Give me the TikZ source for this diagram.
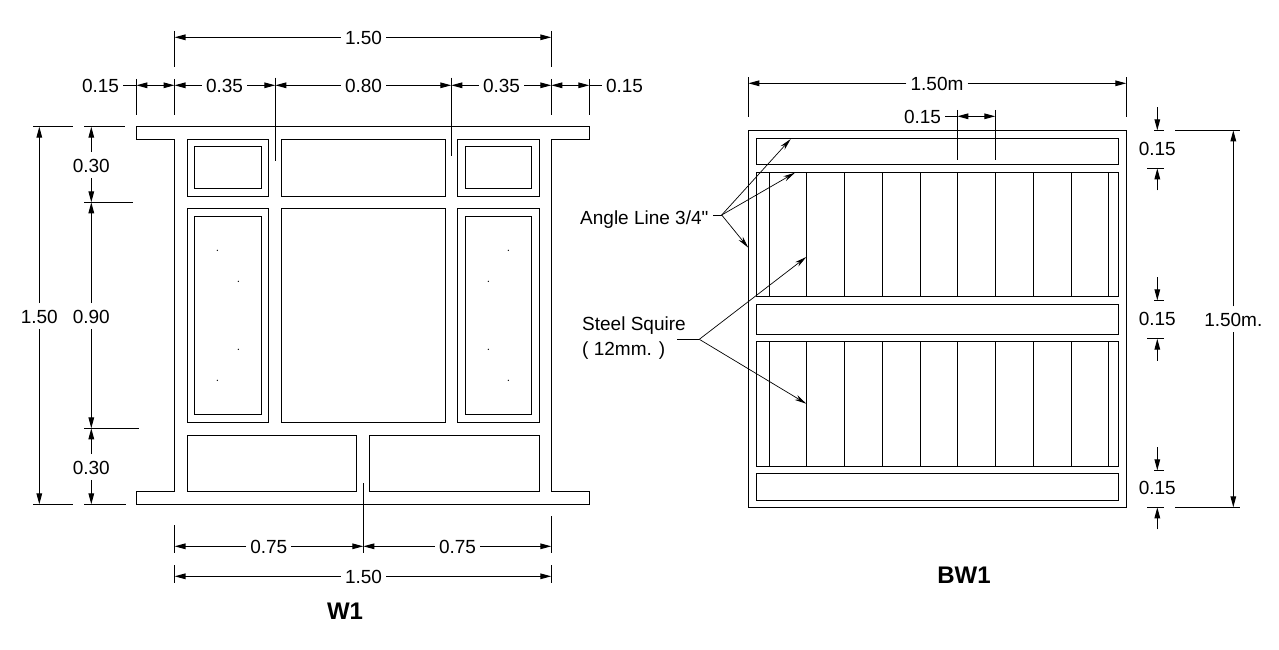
\documentclass[tikz,border=0pt]{standalone}
\usepackage{fontspec}
\setmainfont{Liberation Sans}
\newfontfamily\plainface{Liberation Sans}
\usetikzlibrary{arrows.meta}

\begin{document}
\begin{tikzpicture}[x=1pt,y=-1pt]
   \tikzstyle{part}=[line width=1.15pt, line join=miter]
   \tikzstyle{ext}=[line width=1.05pt]
   \tikzstyle{dimline}=[line width=1.05pt, -{Triangle[length=11pt,width=5.6pt]}]
   \tikzstyle{twodim}=[line width=1.05pt, {Triangle[length=11pt,width=5.6pt]}-{Triangle[length=11pt,width=5.6pt]}]
   \tikzstyle{leader}=[line width=.7pt, -{Stealth[length=12pt,width=5.4pt]}]
   \tikzstyle{label}=[font=\fontsize{19}{25}\selectfont, text height=14.5pt, text depth=0pt, inner xsep=4pt, inner ysep=5.5pt]
   \tikzstyle{title}=[font=\fontsize{24}{26}\selectfont\bfseries]
   \useasboundingbox (0,0) rectangle (1279,650);

   % W1 frame
   \draw[part] (136.3,126.7) -- (589.3,126.7) -- (589.3,139.3) -- (551.3,139.3) -- (551.3,491.3)
      -- (589.3,491.3) -- (589.3,504.3) -- (136.3,504.3) -- (136.3,491.3) -- (174.5,491.3)
      -- (174.5,139.3) -- (136.3,139.3) -- cycle;
   \foreach \xa/\ya/\xb/\yb in {187.3/139.3/268.3/196.3, 194.3/146.3/261.7/188.3,
      281.3/139.3/445.7/196.3, 457.3/139.3/539.7/196.3, 465.3/146.3/531.7/188.3,
      187.3/208.3/268.3/422.3, 194.3/216.3/261.7/414.3, 281.3/208.3/445.7/422.3,
      457.3/208.3/539.7/422.3, 465.3/216.3/531.7/414.3,
      187.3/435.3/356.7/491.3, 369.3/435.3/539.7/491.3} {
       \draw[part] (\xa,\ya) rectangle (\xb,\yb);
   }
   \foreach \x/\y in {217.3/250.3, 238.3/281.3, 238.3/349.3, 217.3/380.3,
      508.3/250.3, 488.3/281.3, 488.3/349.3, 508.3/380.3} {
       \fill (\x,\y) circle (.7);
   }

   % W1 extension lines
   \foreach \name/\x/\ya/\yb in {topl/174.5/31/66.7, topr/551.3/31/66.7, e0/136.3/79/115, e1/174.5/79/115,
      e2/275.3/77.7/160.7, e3/451.3/77.7/155.7, e4/551.3/79/115, e5/589.3/79/115,
      bl/174.5/525.3/552.7, bm/363.3/483.3/553, br/551.3/516.3/552.7,
      cl/174.5/565/582.7, cr/551.3/565/582.7} {
       \coordinate (\name a) at (\x,\ya);
       \coordinate (\name b) at (\x,\yb);
       \draw[ext] (\name a) -- (\name b);
   }
   \foreach \name/\y/\xa/\xb in {hl/126.7/33/72.7, hm/504.3/33/72.7, ga/126.7/84/125, gb/202.3/84/133,
      gc/428.3/84/139, gd/504.3/84/126} {
       \coordinate (\name a) at (\xa,\y);
       \coordinate (\name b) at (\xb,\y);
       \draw[ext] (\name a) -- (\name b);
   }

   % W1 dimensions
   \node[label] (topall) at (363.5,37.3) {1.50};
   \node[label] (ql) at (100.5,85.3) {0.15};
   \node[label] (ra) at (224.5,85.3) {0.35};
   \node[label] (rb) at (363.5,85.3) {0.80};
   \node[label] (rc) at (501.5,85.3) {0.35};
   \node[label] (qr) at (624.5,85.3) {0.15};
   \node[label] (sa) at (268.8,546.3) {0.75};
   \node[label] (sb) at (457.5,546.3) {0.75};
   \node[label] (botall) at (363.5,576.3) {1.50};
   \node[label] (whole) at (39.3,316) {1.50};
   \node[label] (ua) at (91.3,165) {0.30};
   \node[label] (ub) at (91.3,316) {0.90};
   \node[label] (uc) at (91.3,467) {0.30};
   \foreach \label/\end in {topall/topla, topall/topra, ra/e1a, ra/e2a, rb/e2a, rb/e3a, rc/e3a, rc/e4a,
      sa/blb, sa/bmb, sb/bmb, sb/brb, botall/clb, botall/crb} {
       \draw[dimline] (\label) -- (\label -| \end);
   }
   \foreach \label/\end in {whole/hla, whole/hma, ua/gaa, ua/gba, ub/gba, ub/gca, uc/gca, uc/gda} {
       \draw[dimline] (\label) -- (\label |- \end);
   }
   \draw[ext] (ql) -- (ql -| e0a);
   \draw[twodim] (ql -| e0a) -- (ql -| e1a);
   \draw[ext] (qr) -- (qr -| e5a);
   \draw[twodim] (qr -| e4a) -- (qr -| e5a);
   \node[title] (wone) at (345,611) {W1};

   % BW1 panel
   \draw[part] (748.3,130.3) rectangle (1126.3,507.3);
   \foreach \ya/\yb in {138.3/164.3, 172.3/296.3, 304.3/334.3, 341.3/466.3, 473.3/500.3} {
       \draw[part] (756.3,\ya) rectangle (1118.7,\yb);
   }
   \foreach \x in {769.3,806.5,844.3,882.2,920.3,957.5,995.5,1033.3,1071.3,1108.3} {
       \draw[part] (\x,172.3) -- (\x,296.3);
       \draw[part] (\x,341.3) -- (\x,466.3);
   }

   % BW1 dimensions
   \foreach \name/\x/\ya/\yb in {al/748.3/77.3/117.3, ar/1126.3/77.3/117.3, bt/957.3/110/159.7, bu/995.3/110/159.7} {
       \coordinate (\name a) at (\x,\ya);
       \coordinate (\name b) at (\x,\yb);
       \draw[ext] (\name a) -- (\name b);
   }
   \node[label] (widthall) at (937,83.3) {1.50m};
   \foreach \end in {ala, ara} {
       \draw[dimline] (widthall) -- (widthall -| \end);
   }
   \node[label] (pt) at (922.5,116.3) {0.15};
   \draw[ext] (pt) -- (pt -| bta);
   \draw[twodim] (pt -| bta) -- (pt -| bua);
   \foreach \name/\ya/\yb/\yt in {pa/130.3/168.3/148, pb/300.3/338.7/318.7, pc/470.3/507.3/487.3} {
       \node[label] (\name) at (1157.3,\yt) {0.15};
       \coordinate (\name a) at (1157.3,\ya-23);
       \coordinate (\name b) at (1157.3,\ya);
       \coordinate (\name c) at (1157.3,\yb+22);
       \coordinate (\name d) at (1157.3,\yb);
       \draw[dimline] (\name a) -- (\name b);
       \draw[dimline] (\name c) -- (\name d);
       \draw[ext] (1154,\ya) -- (1164,\ya);
       \draw[ext] (1147,\yb) -- (1164,\yb);
   }
   \coordinate (ha) at (1175,130.3);
   \coordinate (hb) at (1240,130.3);
   \coordinate (hc) at (1175,507.3);
   \coordinate (hd) at (1240,507.3);
   \draw[ext] (ha) -- (hb);
   \draw[ext] (hc) -- (hd);
   \node[label] (heightall) at (1233.3,319.3) {1.50m.};
   \foreach \end in {hb, hd} {
       \draw[dimline] (heightall) -- (heightall |- \end);
   }

   % BW1 leaders
   \node[label, anchor=west, inner xsep=0pt, font=\fontsize{19}{25}\plainface] (angle) at (580,217) {Angle Line 3/4"};
   \coordinate (anglestub) at (713,215);
   \coordinate (anglejoin) at (721.7,215);
   \draw[ext, line width=.8pt] (anglestub) -- (anglejoin);
   \foreach \x/\y/\tipname in {790.7/139/anglea, 795/172.7/angleb, 748.3/247.7/anglec} {
       \coordinate (\tipname) at (\x,\y);
       \draw[leader] (anglejoin) -- (\tipname);
   }
   \node[font=\fontsize{19}{25}\selectfont, anchor=north west, align=left, inner sep=0pt] (squire) at (582,317) {Steel Squire\\( 12mm. )};
   \coordinate (squirestub) at (677,339.3);
   \coordinate (squirejoin) at (699.3,339.3);
   \draw[ext, line width=.8pt] (squirestub) -- (squirejoin);
   \foreach \x/\y/\tipname in {806.3/257/squirea, 806.3/403.7/squireb} {
       \coordinate (\tipname) at (\x,\y);
       \draw[leader] (squirejoin) -- (\tipname);
   }
   \node[title] (bwone) at (964,575) {BW1};
\end{tikzpicture}
\end{document}
